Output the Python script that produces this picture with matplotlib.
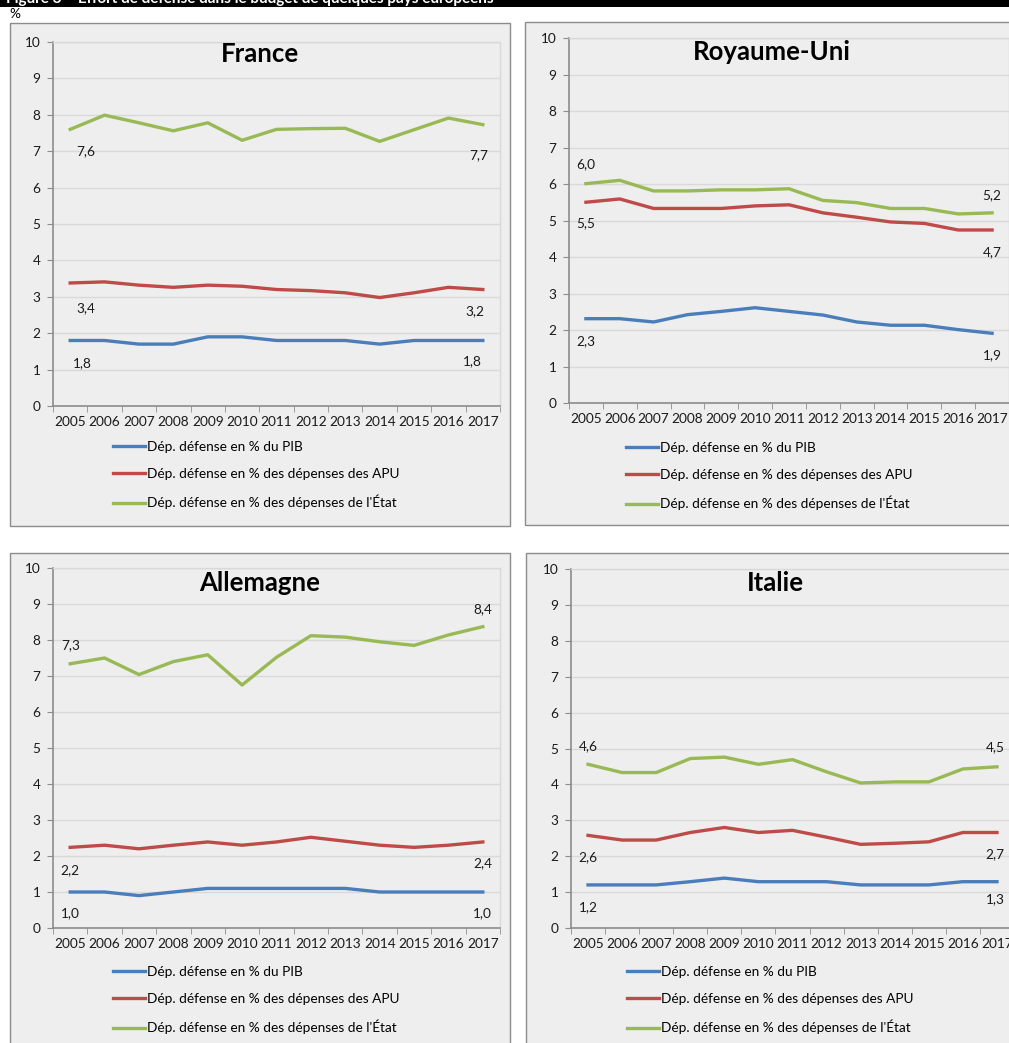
import matplotlib
matplotlib.use('Agg')
from matplotlib import pyplot as plt
from matplotlib.patches import Rectangle
from matplotlib.ticker import FixedLocator

plt.rcParams['font.family'] = ['Lato', 'DejaVu Sans']

## Data (% )

years = ['2005', '2006', '2007', '2008', '2009', '2010', '2011',
         '2012', '2013', '2014', '2015', '2016', '2017']

fr_pib = [1.8, 1.8, 1.7, 1.7, 1.9, 1.9, 1.8, 1.8, 1.8, 1.7, 1.8, 1.8, 1.8]
fr_apu = [3.38, 3.41, 3.32, 3.26, 3.32, 3.29, 3.2, 3.17, 3.11, 2.98, 3.11, 3.26, 3.2]
fr_etat = [7.6, 7.99, 7.78, 7.56, 7.78, 7.3, 7.6, 7.62, 7.63, 7.27, 7.59, 7.91, 7.73]

uk_pib = [2.31, 2.31, 2.22, 2.42, 2.51, 2.61, 2.51, 2.41, 2.22, 2.13, 2.13, 2.01, 1.91]
uk_apu = [5.5, 5.59, 5.33, 5.33, 5.33, 5.4, 5.43, 5.21, 5.09, 4.96, 4.92, 4.74, 4.74]
uk_etat = [6.01, 6.1, 5.81, 5.81, 5.84, 5.84, 5.87, 5.55, 5.49, 5.33, 5.33, 5.18, 5.21]

de_pib = [1.0, 1.0, 0.9, 1.0, 1.1, 1.1, 1.1, 1.1, 1.1, 1.0, 1.0, 1.0, 1.0]
de_apu = [2.24, 2.3, 2.2, 2.3, 2.39, 2.3, 2.39, 2.52, 2.41, 2.3, 2.24, 2.3, 2.39]
de_etat = [7.34, 7.5, 7.04, 7.4, 7.59, 6.75, 7.52, 8.12, 8.08, 7.95, 7.85, 8.14, 8.37]

it_pib = [1.2, 1.2, 1.2, 1.29, 1.39, 1.29, 1.29, 1.29, 1.2, 1.2, 1.2, 1.29, 1.29]
it_apu = [2.58, 2.45, 2.45, 2.66, 2.8, 2.66, 2.72, 2.53, 2.33, 2.36, 2.4, 2.66, 2.66]
it_etat = [4.56, 4.33, 4.33, 4.72, 4.76, 4.56, 4.69, 4.35, 4.04, 4.07, 4.07, 4.43, 4.49]

series_names = ['Dép. défense en % du PIB',
                'Dép. défense en % des dépenses des APU',
                "Dép. défense en % des dépenses de l'État"]
colors = ['#4A7EBB', '#BE4B48', '#98B954']

#%%

W, H = 1009, 1043
fig = plt.figure(figsize=(W / 100, H / 100), dpi=100)
fig.patch.set_facecolor('white')
FS = 9.8


def fx(x):
    return x / W


def fy(y):
    return 1 - y / H


# banner (title cut by the page edge, as in the source)
fig.add_artist(Rectangle((0, fy(7)), 1, 7 / H, transform=fig.transFigure,
                         facecolor='black', edgecolor='none'))
fig.text(fx(6), fy(3.5), 'Figure 3 \u2013 Effort de défense dans le budget de quelques pays européens',
         color='white', fontsize=11, fontweight='bold', va='baseline')
fig.text(fx(9), fy(14), '%', fontsize=FS, va='center')

# panel: title, box, axes rect (l, t, r, b), legend position, label offsets
panels = [
    dict(title='France', data=[fr_pib, fr_apu, fr_etat],
         box=(10, 23, 510, 526), ax=(53, 42, 500, 406), tpos=(260, 54), leg=(113, 441),
         offs=[((12, 23), (-10, 21)), ((16, 25), (-8, 22)), ((16, 22), (-4, 31))]),
    dict(title='Royaume-Uni', data=[uk_pib, uk_apu, uk_etat],
         box=(525, 22, 1025, 525), ax=(569, 38, 1009, 403), tpos=(772, 52), leg=(626, 442),
         offs=[((0, 22), (0, 22)), ((0, 21), (0, 22)), ((0, -19), (0, -18))]),
    dict(title='Allemagne', data=[de_pib, de_apu, de_etat],
         box=(10, 553, 510, 1060), ax=(53, 568, 500, 928), tpos=(260, 583), leg=(113, 966),
         offs=[((0, 21), (0, 21)), ((0, 23), (0, 21)), ((0, -19), (0, -18))]),
    dict(title='Italie', data=[it_pib, it_apu, it_etat],
         box=(526, 553, 1026, 1060), ax=(571, 569, 1014, 928), tpos=(775, 583), leg=(627, 966),
         offs=[((0, 22), (-2, 17)), ((0, 22), (-2, 22)), ((0, -18), (-2, -20))]),
]

x = list(range(len(years)))

for p in panels:
    bx0, by0, bx1, by1 = p['box']
    fig.add_artist(Rectangle((fx(bx0), fy(by1)), (bx1 - bx0) / W, (by1 - by0) / H,
                             transform=fig.transFigure, facecolor='#EEEEEE',
                             edgecolor='#8C8C8C', linewidth=1, zorder=0))
    l, t, r, b = p['ax']
    ax = fig.add_axes([fx(l), fy(b), (r - l) / W, (b - t) / H])
    ax.set_facecolor('#EEEEEE')

    lines = []
    for vals, c, name, (o_first, o_last) in zip(p['data'], colors, series_names, p['offs']):
        ln, = ax.plot(x, vals, color=c, linewidth=2.4, solid_joinstyle='round', label=name)
        lines.append(ln)
        for i, o in ((0, o_first), (len(vals) - 1, o_last)):
            ax.annotate(f'{vals[i]:.1f}'.replace('.', ','), (x[i], vals[i]),
                        xytext=(o[0], -o[1]), textcoords='offset pixels',
                        ha='center', va='center', fontsize=FS, color='#1a1a1a')

    ax.set_xlim(-0.5, len(years) - 0.5)
    ax.set_ylim(0, 10)
    ax.set_yticks(range(0, 11))
    ax.set_xticks(x)
    ax.set_xticklabels(years)
    ax.xaxis.set_minor_locator(FixedLocator([i - 0.5 for i in range(len(years) + 1)]))
    ax.tick_params(axis='x', which='major', length=0, pad=7, labelsize=FS, colors='#1a1a1a')
    ax.tick_params(axis='x', which='minor', length=4, direction='out', color='#8C8C8C')
    ax.tick_params(axis='y', length=4, direction='out', color='#8C8C8C', pad=5,
                   labelsize=FS, labelcolor='#1a1a1a')
    ax.grid(axis='y', color='#D9D9D9', linewidth=1)
    ax.set_axisbelow(True)
    for s in ['left', 'bottom']:
        ax.spines[s].set_color('#8C8C8C')
        ax.spines[s].set_linewidth(1.2)
    for s in ['top', 'right']:
        ax.spines[s].set_color('#D9D9D9')
        ax.spines[s].set_linewidth(1)

    fig.text(fx(p['tpos'][0]), fy(p['tpos'][1]), p['title'], ha='center', va='center',
             fontsize=18.5, fontweight='bold')

    ax.legend(handles=lines, loc='upper left', bbox_to_anchor=(fx(p['leg'][0]), fy(p['leg'][1])),
              bbox_transform=fig.transFigure, frameon=False, fontsize=FS,
              handlelength=2.35, handletextpad=0.15, labelspacing=1.1,
              borderpad=0, borderaxespad=0)

fig.savefig('out.png', dpi=100, facecolor='white')
